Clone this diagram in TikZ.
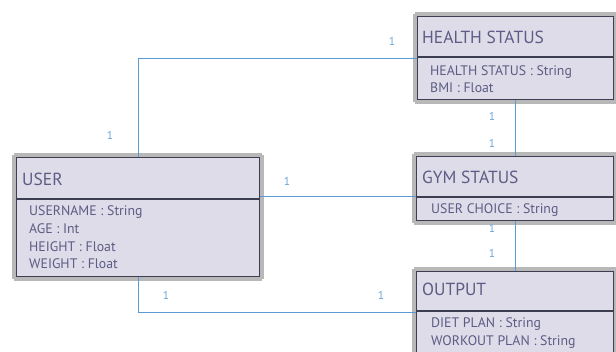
\documentclass[tikz,border=0pt]{standalone}
\usepackage{fontspec}
\setmainfont{PT Sans}
\usetikzlibrary{calc}
\definecolor{boxfill}{RGB}{222,220,233}
\definecolor{boxline}{RGB}{62,62,82}
\definecolor{txt}{RGB}{92,92,132}
\definecolor{conncol}{RGB}{91,155,213}
\definecolor{labcol}{RGB}{110,165,220}
\tikzset{
  box/.style={draw=boxline, line width=1.3pt, fill=boxfill, anchor=north west, inner sep=0pt},
  shade/.style={draw=black!28, line width=4pt, dash pattern=on 0.5pt off 0.5pt},
  divider/.style={draw=boxline, line width=1.1pt},
  title/.style={anchor=base west, inner sep=0pt, text=txt, font=\fontsize{17.5}{19}\selectfont},
  attr/.style={anchor=base west, inner sep=0pt, text=txt, font=\fontsize{13.8}{15}\selectfont},
  conn/.style={draw=conncol, line width=0.9pt},
  lab/.style={inner sep=0pt, text=labcol, font=\fontsize{11.5}{12}\selectfont}
}
\begin{document}
\begin{tikzpicture}[x=1pt,y=-1pt]
\useasboundingbox (0,0) rectangle (616,351);
\fill[white] (0,0) rectangle (616,351);
% shadows
\draw[shade] (414.5,13.5) rectangle (615.5,101.5);
\draw[shade] (413.5,153.5) rectangle (615.5,222.5);
\draw[shade] (413.5,268.5) rectangle (615.5,360);
\draw[shade] (13.5,154.5) rectangle (261.5,278.5);
% boxes
\node[box, minimum width=196, minimum height=83] (health) at (417,16) {};
\node[box, minimum width=197, minimum height=64] (gym) at (416,156) {};
\node[box, minimum width=197, minimum height=86] (output) at (416,271) {};
\node[box, minimum width=243, minimum height=119] (user) at (16,157) {};
% dividers
\coordinate (hdiv) at ($(health.north west)+(0,41)$);
\coordinate (gdiv) at ($(gym.north west)+(0,41)$);
\coordinate (odiv) at ($(output.north west)+(0,40)$);
\coordinate (udiv) at ($(user.north west)+(0,42)$);
\draw[divider] (hdiv) -- (hdiv -| health.east);
\draw[divider] (gdiv) -- (gdiv -| gym.east);
\draw[divider] (odiv) -- (odiv -| output.east);
\draw[divider] (udiv) -- (udiv -| user.east);
% texts
\node[title] (ht) at (422,43) {HEALTH STATUS};
\node[attr] (ha1) at (430,75) {HEALTH STATUS : String};
\node[attr] (ha2) at (430,92) {BMI : Float};
\node[title] (gt) at (422,183) {GYM STATUS};
\node[attr] (ga1) at (431,213) {USER CHOICE : String};
\node[title] (ot) at (422,295) {OUTPUT};
\node[attr] (oa1) at (431,327) {DIET PLAN : String};
\node[attr] (oa2) at (431,345) {WORKOUT PLAN : String};
\node[title] (ut) at (22,185) {USER};
\node[attr] (ua1) at (29,215) {USERNAME : String};
\node[attr] (ua2) at (29,233) {AGE : Int};
\node[attr] (ua3) at (29,251) {HEIGHT : Float};
\node[attr] (ua4) at (29,268) {WEIGHT : Float};
% connectors
\coordinate (uxa) at ($(user.north west)+(122,0)$);
\coordinate (uxb) at ($(user.south west)+(122,0)$);
\coordinate (hx) at ($(health.north west)+(98,0)$);
\draw[conn] (uxa) |- ($(health.north west)+(0,42)$);
\draw[conn] ($(user.north east)+(0,39.5)$) -- ($(gym.north west)+(0,40.5)$);
\draw[conn] (health.south -| hx) -- (gym.north -| hx);
\draw[conn] (gym.south -| hx) -- (output.north -| hx);
\draw[conn] (uxb) |- ($(output.north west)+(0,41)$);
% labels
\node[lab] (l1) at (392,41) {1};
\node[lab] (l2) at (110,135) {1};
\node[lab] (l3) at (287,181) {1};
\node[lab] (l4) at (492,116) {1};
\node[lab] (l5) at (492,143) {1};
\node[lab] (l6) at (492,228) {1};
\node[lab] (l7) at (492,253) {1};
\node[lab] (l8) at (166,295) {1};
\node[lab] (l9) at (381,295) {1};
\end{tikzpicture}
\end{document}
